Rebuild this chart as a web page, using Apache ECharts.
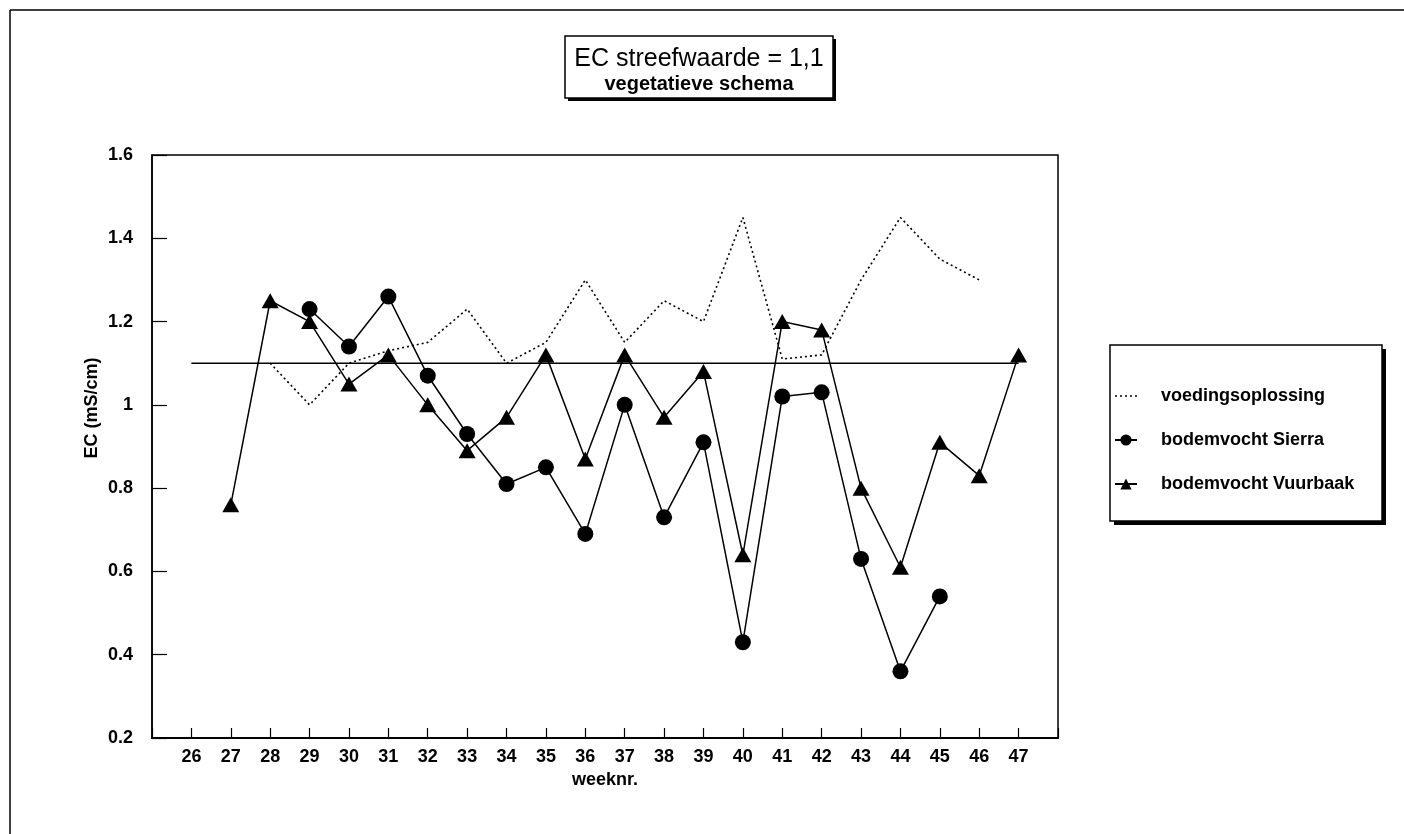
<!DOCTYPE html>
<html>
<head>
<meta charset="utf-8">
<title>EC streefwaarde</title>
<script src="https://cdn.jsdelivr.net/npm/echarts@6/dist/echarts.min.js"></script>
<style>
  html, body { margin: 0; padding: 0; background: #fff; }
  #chart { width: 1404px; height: 834px; }
</style>
</head>
<body>
<div id="chart"></div>
<script>
// Week numbers on the x axis
const weeks = [26, 27, 28, 29, 30, 31, 32, 33, 34, 35, 36, 37, 38, 39, 40, 41, 42, 43, 44, 45, 46, 47];

// EC (mS/cm) per week; null = no measurement
const voedingsoplossing = [null, null, 1.10, 1.00, 1.10, 1.13, 1.15, 1.23, 1.10, 1.15, 1.30, 1.15, 1.25, 1.20, 1.45, 1.11, 1.12, 1.30, 1.45, 1.35, 1.30, null];
const sierra = [null, null, null, 1.23, 1.14, 1.26, 1.07, 0.93, 0.81, 0.85, 0.69, 1.00, 0.73, 0.91, 0.43, 1.02, 1.03, 0.63, 0.36, 0.54, null, null];
const vuurbaak = [null, 0.76, 1.25, 1.20, 1.05, 1.12, 1.00, 0.89, 0.97, 1.12, 0.87, 1.12, 0.97, 1.08, 0.64, 1.20, 1.18, 0.80, 0.61, 0.91, 0.83, 1.12];

// Target EC value
const streefwaarde = 1.1;

const yTicks = [0.2, 0.4, 0.6, 0.8, 1, 1.2, 1.4, 1.6];

const FONT = 'Liberation Sans, Arial, sans-serif';

function pairs(values) {
  const out = [];
  values.forEach((v, i) => { if (v !== null) out.push([weeks[i], v]); });
  return out;
}

const chart = echarts.init(document.getElementById('chart'), null, { renderer: 'canvas' });

const option = {
  backgroundColor: '#ffffff',
  animation: false,
  grid: {
    left: 152, top: 155, right: 346, bottom: 96,
    show: true, borderColor: '#000', borderWidth: 1.5, backgroundColor: 'transparent'
  },
  xAxis: {
    type: 'value',
    min: weeks[0] - 1,
    max: weeks[weeks.length - 1] + 1,
    interval: 1,
    name: 'weeknr.',
    nameLocation: 'middle',
    nameGap: 30,
    nameTextStyle: { fontFamily: FONT, fontWeight: 'bold', fontSize: 18, color: '#000' },
    axisLine: { onZero: false, lineStyle: { color: '#000', width: 2 } },
    axisTick: { inside: true, length: 10, lineStyle: { color: '#000', width: 1.2 } },
    splitLine: { show: false },
    axisLabel: {
      margin: 10,
      fontFamily: FONT, fontWeight: 'bold', fontSize: 18, color: '#000',
      formatter: v => (weeks.indexOf(v) >= 0 ? String(v) : '')
    }
  },
  yAxis: {
    type: 'value',
    min: yTicks[0],
    max: yTicks[yTicks.length - 1],
    interval: 0.2,
    axisLine: { show: true, lineStyle: { color: '#000', width: 1.5 } },
    axisTick: { inside: true, length: 15, lineStyle: { color: '#000', width: 1.2 } },
    splitLine: { show: false },
    axisLabel: {
      margin: 19,
      fontFamily: FONT, fontWeight: 'bold', fontSize: 18, color: '#000',
      formatter: v => String(Math.round(v * 10) / 10)
    }
  },
  legend: {
    orient: 'vertical',
    left: 1114,
    top: 387,
    padding: 0,
    itemGap: 26,
    itemWidth: 22,
    itemHeight: 14,
    data: [
      { name: 'voedingsoplossing', itemStyle: { opacity: 0 }, lineStyle: { color: '#000', width: 1.6, type: [2, 3] } },
      { name: 'bodemvocht Sierra' },
      { name: 'bodemvocht Vuurbaak' }
    ],
    textStyle: { fontFamily: FONT, fontWeight: 'bold', fontSize: 18, color: '#000', padding: [0, 0, 0, 19] }
  },
  graphic: [
    // page frame (top and left rule)
    { type: 'line', shape: { x1: 10, y1: 10, x2: 1404, y2: 10 }, style: { stroke: '#000', lineWidth: 1.5 }, z: 0 },
    { type: 'line', shape: { x1: 10, y1: 10, x2: 10, y2: 834 }, style: { stroke: '#000', lineWidth: 1.5 }, z: 0 },
    // heading box with drop shadow
    { type: 'rect', shape: { x: 568, y: 39, width: 268, height: 62 }, style: { fill: '#000' }, z: 1 },
    { type: 'rect', shape: { x: 565, y: 36, width: 268, height: 62 }, style: { fill: '#fff', stroke: '#000', lineWidth: 1.5 }, z: 2 },
    { type: 'text', x: 699, y: 59, style: { text: 'EC streefwaarde = ' + String(streefwaarde).replace('.', ','), font: 'normal 25px ' + FONT, fill: '#000', align: 'center', verticalAlign: 'middle' }, z: 3 },
    { type: 'text', x: 699, y: 84, style: { text: 'vegetatieve schema', font: 'bold 20px ' + FONT, fill: '#000', align: 'center', verticalAlign: 'middle' }, z: 3 },
    // legend box with drop shadow
    { type: 'rect', shape: { x: 1114, y: 349, width: 272, height: 176 }, style: { fill: '#000' }, z: 1 },
    { type: 'rect', shape: { x: 1110, y: 345, width: 272, height: 176 }, style: { fill: '#fff', stroke: '#000', lineWidth: 1.5 }, z: 2 },
    // y axis title
    { type: 'text', x: 92, y: 408, rotation: Math.PI / 2, style: { text: 'EC (mS/cm)', font: 'bold 18px ' + FONT, fill: '#000', align: 'center', verticalAlign: 'middle' }, z: 3 }
  ],
  series: [
    {
      name: 'streefwaarde',
      type: 'line',
      data: [[weeks[0], streefwaarde], [weeks[weeks.length - 1], streefwaarde]],
      symbol: 'none',
      lineStyle: { color: '#000', width: 1.5 },
      silent: true,
      z: 1
    },
    {
      name: 'voedingsoplossing',
      type: 'line',
      data: pairs(voedingsoplossing),
      symbol: 'none',
      lineStyle: { color: '#000', width: 1.6, type: [2, 3] },
      itemStyle: { color: '#000' },
      z: 2
    },
    {
      name: 'bodemvocht Sierra',
      type: 'line',
      data: pairs(sierra),
      symbol: 'circle',
      symbolSize: 16,
      showAllSymbol: true,
      lineStyle: { color: '#000', width: 1.5 },
      itemStyle: { color: '#000' },
      z: 3
    },
    {
      name: 'bodemvocht Vuurbaak',
      type: 'line',
      data: pairs(vuurbaak),
      symbol: 'triangle',
      symbolSize: [17, 15],
      showAllSymbol: true,
      lineStyle: { color: '#000', width: 1.5 },
      itemStyle: { color: '#000' },
      z: 3
    }
  ]
};

chart.setOption(option);
</script>
</body>
</html>
